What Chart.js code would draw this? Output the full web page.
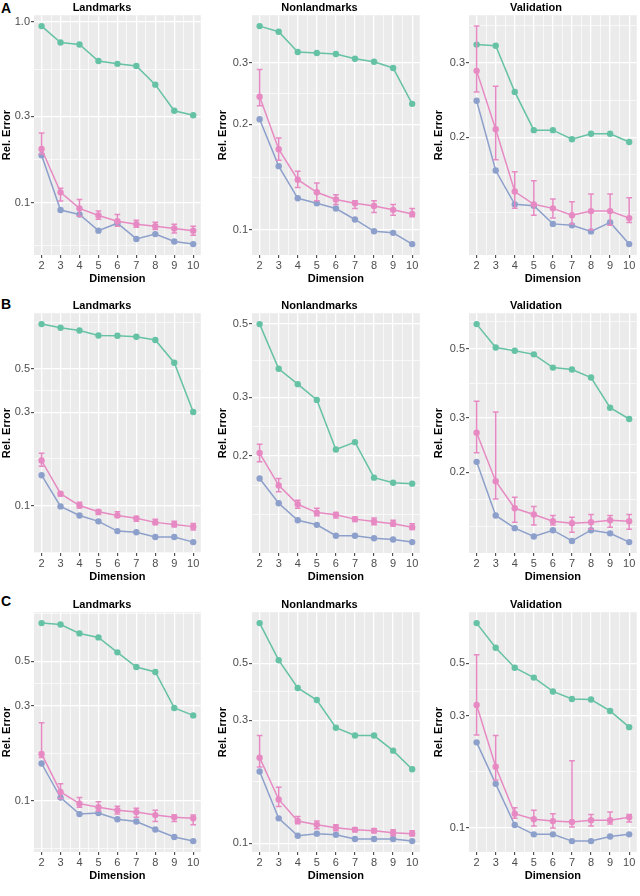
<!DOCTYPE html>
<html>
<head>
<meta charset="utf-8">
<script src="https://cdn.jsdelivr.net/npm/chart.js@4.4.0/dist/chart.umd.min.js"></script>
<style>
  body { margin:0; background:#fff; width:640px; height:896px; position:relative; overflow:hidden;
         font-family:"Liberation Sans", Arial, sans-serif; }
  canvas { position:absolute; }
  .tag { position:absolute; left:1px; font-weight:bold; font-size:14px; line-height:14px; color:#000; }
</style>
</head>
<body>
<div class="tag" style="top:1px">A</div>
<div class="tag" style="top:297px">B</div>
<div class="tag" style="top:594px">C</div>
<script>
// x categories (Dimension)
const dims = [2, 3, 4, 5, 6, 7, 8, 9, 10];

// ---- row A ----
const aLandGreen  = [0.946, 0.768, 0.748, 0.607, 0.585, 0.570, 0.449, 0.322, 0.304];
const aLandPink   = [0.198, 0.114, 0.093, 0.085, 0.079, 0.076, 0.074, 0.072, 0.070];
const aLandPinkHi = [0.243, 0.120, 0.104, 0.090, 0.086, 0.080, 0.078, 0.076, 0.074];
const aLandPinkLo = [0.186, 0.102, 0.084, 0.081, 0.074, 0.073, 0.071, 0.068, 0.066];
const aLandBlue   = [0.183, 0.091, 0.086, 0.070, 0.077, 0.063, 0.067, 0.061, 0.059];
const aLandBreaks = [0.1, 0.3, 1.0];

const aNonGreen  = [0.382, 0.368, 0.322, 0.320, 0.318, 0.308, 0.302, 0.290, 0.229];
const aNonPink   = [0.240, 0.170, 0.139, 0.128, 0.122, 0.119, 0.117, 0.114, 0.111];
const aNonPinkHi = [0.287, 0.183, 0.147, 0.136, 0.126, 0.121, 0.121, 0.118, 0.115];
const aNonPinkLo = [0.226, 0.158, 0.132, 0.121, 0.118, 0.115, 0.112, 0.110, 0.109];
const aNonBlue   = [0.207, 0.152, 0.123, 0.119, 0.115, 0.107, 0.099, 0.098, 0.091];
const aNonBreaks = [0.1, 0.2, 0.3];

const aValGreen  = [0.331, 0.329, 0.256, 0.208, 0.208, 0.198, 0.204, 0.204, 0.195];
const aValPink   = [0.287, 0.209, 0.149, 0.139, 0.136, 0.131, 0.134, 0.134, 0.129];
const aValPinkHi = [0.366, 0.264, 0.166, 0.158, 0.143, 0.141, 0.147, 0.147, 0.144];
const aValPinkLo = [0.256, 0.177, 0.136, 0.131, 0.129, 0.125, 0.121, 0.124, 0.126];
const aValBlue   = [0.244, 0.167, 0.139, 0.138, 0.125, 0.124, 0.120, 0.126, 0.112];
const aValBreaks = [0.2, 0.3];

// ---- row B ----
const bLandGreen  = [0.848, 0.812, 0.787, 0.742, 0.739, 0.731, 0.703, 0.538, 0.301];
const bLandPink   = [0.170, 0.115, 0.100, 0.093, 0.089, 0.086, 0.082, 0.080, 0.078];
const bLandPinkHi = [0.185, 0.117, 0.104, 0.095, 0.093, 0.088, 0.085, 0.083, 0.081];
const bLandPinkLo = [0.159, 0.112, 0.097, 0.090, 0.087, 0.083, 0.080, 0.078, 0.075];
const bLandBlue   = [0.143, 0.099, 0.089, 0.083, 0.074, 0.073, 0.069, 0.069, 0.065];
const bLandBreaks = [0.1, 0.3, 0.5];

const bNonGreen  = [0.499, 0.366, 0.329, 0.295, 0.209, 0.220, 0.172, 0.166, 0.165];
const bNonPink   = [0.204, 0.163, 0.143, 0.135, 0.133, 0.129, 0.127, 0.125, 0.122];
const bNonPinkHi = [0.217, 0.171, 0.147, 0.139, 0.135, 0.131, 0.130, 0.128, 0.125];
const bNonPinkLo = [0.192, 0.156, 0.139, 0.132, 0.130, 0.127, 0.124, 0.123, 0.120];
const bNonBlue   = [0.171, 0.144, 0.128, 0.124, 0.115, 0.115, 0.113, 0.112, 0.110];
const bNonBreaks = [0.2, 0.3, 0.5];

const bValGreen  = [0.601, 0.505, 0.493, 0.480, 0.435, 0.429, 0.404, 0.323, 0.297];
const bValPink   = [0.268, 0.187, 0.153, 0.146, 0.139, 0.137, 0.138, 0.140, 0.139];
const bValPinkHi = [0.339, 0.313, 0.166, 0.155, 0.145, 0.143, 0.146, 0.145, 0.146];
const bValPinkLo = [0.231, 0.164, 0.138, 0.135, 0.135, 0.128, 0.131, 0.133, 0.131];
const bValBlue   = [0.216, 0.145, 0.132, 0.124, 0.130, 0.120, 0.130, 0.127, 0.119];
const bValBreaks = [0.2, 0.3, 0.5];

// ---- row C ----
const cLandGreen  = [0.776, 0.764, 0.689, 0.658, 0.554, 0.468, 0.442, 0.292, 0.268];
const cLandPink   = [0.172, 0.111, 0.097, 0.093, 0.090, 0.088, 0.085, 0.083, 0.082];
const cLandPinkHi = [0.246, 0.122, 0.104, 0.099, 0.094, 0.092, 0.090, 0.085, 0.085];
const cLandPinkLo = [0.165, 0.103, 0.093, 0.089, 0.086, 0.083, 0.079, 0.079, 0.076];
const cLandBlue   = [0.154, 0.104, 0.086, 0.087, 0.081, 0.079, 0.072, 0.066, 0.063];
const cLandBreaks = [0.1, 0.3, 0.5];

const cNonGreen  = [0.716, 0.514, 0.401, 0.360, 0.281, 0.262, 0.262, 0.229, 0.194];
const cNonPink   = [0.215, 0.148, 0.122, 0.118, 0.115, 0.113, 0.112, 0.110, 0.109];
const cNonPinkHi = [0.262, 0.165, 0.127, 0.122, 0.118, 0.115, 0.114, 0.113, 0.112];
const cNonPinkLo = [0.198, 0.139, 0.119, 0.114, 0.112, 0.111, 0.110, 0.107, 0.107];
const cNonBlue   = [0.190, 0.125, 0.107, 0.109, 0.108, 0.104, 0.104, 0.104, 0.102];
const cNonBreaks = [0.1, 0.3, 0.5];

const cValGreen  = [0.741, 0.582, 0.479, 0.435, 0.380, 0.353, 0.351, 0.314, 0.268];
const cValPink   = [0.333, 0.182, 0.115, 0.109, 0.107, 0.106, 0.108, 0.108, 0.111];
const cValPinkHi = [0.544, 0.247, 0.122, 0.119, 0.115, 0.193, 0.114, 0.117, 0.114];
const cValPinkLo = [0.248, 0.160, 0.110, 0.102, 0.100, 0.101, 0.102, 0.104, 0.106];
const cValBlue   = [0.231, 0.154, 0.103, 0.094, 0.094, 0.088, 0.088, 0.092, 0.094];
const cValBreaks = [0.1, 0.3, 0.5];

const GREEN = '#66C2A5', PINK = '#E78AC3', BLUE = '#8DA0CB';
const FONT = '"Liberation Sans", Arial, sans-serif';

// layout of the 3x3 grid
const colX = [0, 216, 432];
const colW = [204, 207, 208];
const yAxisW = [34, 36, 37];
const rowY = [0, 298, 597];
const rowH = 288;

const panels = [
  { row: 0, col: 0, title: 'Landmarks',    green: aLandGreen, pink: aLandPink, hi: aLandPinkHi, lo: aLandPinkLo, blue: aLandBlue, breaks: aLandBreaks },
  { row: 0, col: 1, title: 'Nonlandmarks', green: aNonGreen,  pink: aNonPink,  hi: aNonPinkHi,  lo: aNonPinkLo,  blue: aNonBlue,  breaks: aNonBreaks },
  { row: 0, col: 2, title: 'Validation',   green: aValGreen,  pink: aValPink,  hi: aValPinkHi,  lo: aValPinkLo,  blue: aValBlue,  breaks: aValBreaks },
  { row: 1, col: 0, title: 'Landmarks',    green: bLandGreen, pink: bLandPink, hi: bLandPinkHi, lo: bLandPinkLo, blue: bLandBlue, breaks: bLandBreaks },
  { row: 1, col: 1, title: 'Nonlandmarks', green: bNonGreen,  pink: bNonPink,  hi: bNonPinkHi,  lo: bNonPinkLo,  blue: bNonBlue,  breaks: bNonBreaks },
  { row: 1, col: 2, title: 'Validation',   green: bValGreen,  pink: bValPink,  hi: bValPinkHi,  lo: bValPinkLo,  blue: bValBlue,  breaks: bValBreaks },
  { row: 2, col: 0, title: 'Landmarks',    green: cLandGreen, pink: cLandPink, hi: cLandPinkHi, lo: cLandPinkLo, blue: cLandBlue, breaks: cLandBreaks },
  { row: 2, col: 1, title: 'Nonlandmarks', green: cNonGreen,  pink: cNonPink,  hi: cNonPinkHi,  lo: cNonPinkLo,  blue: cNonBlue,  breaks: cNonBreaks },
  { row: 2, col: 2, title: 'Validation',   green: cValGreen,  pink: cValPink,  hi: cValPinkHi,  lo: cValPinkLo,  blue: cValBlue,  breaks: cValBreaks }
];

// grey panel behind the grid
const panelBg = {
  id: 'panelBg',
  beforeDraw(chart) {
    const a = chart.chartArea, ctx = chart.ctx;
    ctx.save();
    ctx.fillStyle = '#EBEBEB';
    ctx.fillRect(a.left, a.top, a.right - a.left, a.bottom - a.top);
    ctx.restore();
  }
};

// error bars for the pink series
const errorBars = {
  id: 'errorBars',
  afterDatasetsDraw(chart, args, opts) {
    if (!opts || !opts.lo) return;
    const x = chart.scales.x, y = chart.scales.y, ctx = chart.ctx;
    ctx.save();
    ctx.strokeStyle = opts.color;
    ctx.lineWidth = 1.5;
    dims.forEach((d, i) => {
      const px = x.getPixelForValue(d);
      const c0 = x.getPixelForValue(d - 0.15), c1 = x.getPixelForValue(d + 0.15);
      const yl = y.getPixelForValue(opts.lo[i]), yh = y.getPixelForValue(opts.hi[i]);
      ctx.beginPath();
      ctx.moveTo(px, yl); ctx.lineTo(px, yh);
      ctx.moveTo(c0, yl); ctx.lineTo(c1, yl);
      ctx.moveTo(c0, yh); ctx.lineTo(c1, yh);
      ctx.stroke();
    });
    ctx.restore();
  }
};

// ggplot-like minor breaks (midpoints in log space, extended one step)
function minorBreaks(major, lo, hi) {
  const m = major.map(Math.log10);
  const b = m.slice();
  const bd = b[1] - b[0];
  if (lo < b[0]) b.unshift(b[0] - bd);
  if (hi > b[b.length - 1]) b.push(b[b.length - 1] + bd);
  const out = [];
  for (let i = 0; i < b.length - 1; i++) out.push(b[i], (b[i] + b[i + 1]) / 2);
  out.push(b[b.length - 1]);
  return out.filter(v => v > lo && v < hi && !m.some(k => Math.abs(k - v) < 1e-9)).map(v => Math.pow(10, v));
}

function series(vals, color) {
  return {
    data: dims.map((d, i) => ({ x: d, y: vals[i] })),
    borderColor: color, backgroundColor: color,
    borderWidth: 1.5, pointRadius: 3.2, pointBorderWidth: 0, pointHoverRadius: 3.2,
    tension: 0, clip: false
  };
}

function makeChart(p) {
  const canvas = document.createElement('canvas');
  canvas.width = colW[p.col];
  canvas.height = rowH;
  canvas.style.left = colX[p.col] + 'px';
  canvas.style.top = rowY[p.row] + 'px';
  canvas.style.width = colW[p.col] + 'px';
  canvas.style.height = rowH + 'px';
  document.body.appendChild(canvas);

  const all = [].concat(p.green, p.pink, p.hi, p.lo, p.blue);
  const lLo = Math.log10(Math.min(...all)), lHi = Math.log10(Math.max(...all));
  const pad = (lHi - lLo) * 0.05;
  const yMin = Math.pow(10, lLo - pad), yMax = Math.pow(10, lHi + pad);
  const minors = minorBreaks(p.breaks, lLo - pad, lHi + pad);

  new Chart(canvas, {
    type: 'line',
    data: {
      datasets: [series(p.pink, PINK), series(p.blue, BLUE), series(p.green, GREEN)]
    },
    options: {
      responsive: false,
      animation: false,
      devicePixelRatio: 1,
      layout: { padding: 0 },
      plugins: {
        legend: { display: false },
        tooltip: { enabled: false },
        title: {
          display: true, text: p.title, color: '#000',
          font: { family: FONT, size: 11, weight: 'bold' },
          padding: { top: 1, bottom: 1 }
        },
        errorBars: { lo: p.lo, hi: p.hi, color: PINK }
      },
      scales: {
        x: {
          type: 'linear', min: 1.6, max: 10.4,
          afterBuildTicks(s) {
            const t = dims.map(d => ({ value: d, isMajor: true, lbl: String(d) }));
            dims.slice(0, -1).forEach(d => t.push({ value: d + 0.5, isMajor: false, lbl: '' }));
            s.ticks = t;
          },
          afterFit(s) { s.height = 33; },
          border: { display: false },
          grid: {
            color: '#FFFFFF',
            lineWidth: c => (c.tick && c.tick.isMajor ? 1.3 : 0.65),
            tickLength: 3,
            tickColor: c => (c.tick && c.tick.isMajor ? '#333333' : 'rgba(0,0,0,0)'),
            tickWidth: 1
          },
          ticks: {
            autoSkip: false, maxRotation: 0, padding: 1,
            color: '#4D4D4D', font: { family: FONT, size: 11 },
            callback: (v, i, t) => t[i].lbl
          },
          title: {
            display: true, text: 'Dimension', color: '#000',
            font: { family: FONT, size: 11, weight: 'bold' },
            padding: { top: 0, bottom: 2 }
          }
        },
        y: {
          type: 'logarithmic', min: yMin, max: yMax,
          afterBuildTicks(s) {
            const t = p.breaks.map(v => ({ value: v, isMajor: true, lbl: v.toFixed(1) }));
            minors.forEach(v => t.push({ value: v, isMajor: false, lbl: '' }));
            s.ticks = t;
          },
          afterFit(s) { s.width = yAxisW[p.col]; },
          border: { display: false },
          grid: {
            color: '#FFFFFF',
            lineWidth: c => (c.tick && c.tick.isMajor ? 1.3 : 0.65),
            tickLength: 3,
            tickColor: c => (c.tick && c.tick.isMajor ? '#333333' : 'rgba(0,0,0,0)'),
            tickWidth: 1
          },
          ticks: {
            autoSkip: false, padding: 1,
            color: '#4D4D4D', font: { family: FONT, size: 11 },
            callback: (v, i, t) => t[i].lbl
          },
          title: {
            display: true, text: 'Rel. Error', color: '#000',
            font: { family: FONT, size: 11, weight: 'bold' },
            padding: 0
          }
        }
      }
    },
    plugins: [panelBg, errorBars]
  });
}

panels.forEach(makeChart);
</script>
</body>
</html>
